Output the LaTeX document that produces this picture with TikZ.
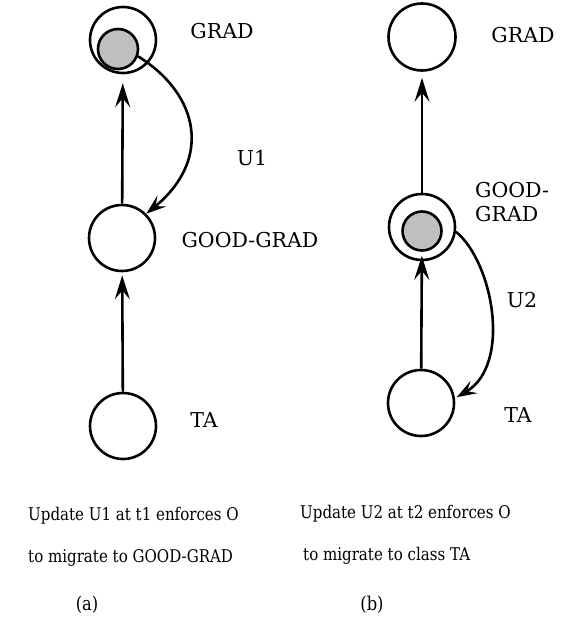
\documentclass[tikz,border=0pt]{standalone}
\usepackage{fontspec}
\setmainfont{DejaVu Serif}
\newfontfamily\captfont[FakeStretch=0.86]{DejaVu Serif}
\usetikzlibrary{arrows.meta}
\begin{document}
\begin{tikzpicture}[x=1pt,y=-1pt,
  cls/.style={circle,draw,line width=2.6pt,minimum size=66pt,inner sep=0pt},
  inst/.style={circle,draw,line width=2.6pt,fill=black!25,minimum size=40pt,inner sep=0pt},
  isa/.style={line width=2.6pt,-{Stealth[length=24pt,width=15pt,inset=9pt]}},
  mig/.style={line width=2.6pt,-{Stealth[length=20pt,width=14pt,inset=8pt]}},
  lbl/.style={font=\fontsize{20.5}{24}\selectfont,inner sep=0pt},
  capt/.style={font=\captfont\fontsize{17.5}{21}\selectfont,inner sep=0pt,anchor=base west},
  tag/.style={font=\captfont\fontsize{19}{21}\selectfont,inner sep=0pt}]
\useasboundingbox (0,0) rectangle (581,623);

% (a): U1 moves the object from GRAD down to GOOD-GRAD
\node[cls] (gradA) at (123,40) {};
\node[inst] (gradAi) at (118,49) {};
\node[cls] (goodA) at (122,238) {};
\node[cls] (taA) at (123,426) {};
\draw[isa,shorten >=9pt] (goodA) -- (gradA);
\draw[isa,shorten >=3pt] (taA) -- (goodA);
\draw[mig] (gradAi.-20) .. controls (200,95) and (212,160) .. (goodA.45);

\node[lbl] (lgradA) at (222,31) {GRAD};
\node[lbl] (lu1) at (252,158) {U1};
\node[lbl] (lgoodA) at (250,240) {GOOD-GRAD};
\node[lbl] (ltaA) at (204,420) {TA};

% (b): U2 moves the object from GOOD-GRAD down to TA
\node[cls,minimum size=67pt] (gradB) at (422,37) {};
\node[cls] (goodB) at (422,227) {};
\node[inst,minimum size=39pt] (goodBi) at (422,231) {};
\node[cls] (taB) at (421,403) {};
\draw[isa,shorten >=6pt] (goodB) -- (gradB);
\draw[isa,shorten >=4pt] (taB) -- (goodBi);
\draw[mig,shorten >=2pt] (goodB.-8) .. controls (493,262) and (512,365) .. (taB.8);

\node[lbl] (lgradB) at (523,35) {GRAD};
\node[lbl,anchor=west,align=left] (lgoodB) at (475,202) {GOOD-\\GRAD};
\node[lbl] (lu2) at (522,300) {U2};
\node[lbl] (ltaB) at (518,415) {TA};

% captions
\node[capt] (ca1) at (28,520) {Update U1 at t1 enforces O};
\node[capt] (ca2) at (28,562) {to migrate to GOOD-GRAD};
\node[capt] (cb1) at (300,518) {Update U2 at t2 enforces O};
\node[capt] (cb2) at (303,560) {to migrate to class TA};
\node[tag] (ta) at (87,605) {(a)};
\node[tag] (tb) at (372,605) {(b)};
\end{tikzpicture}
\end{document}
